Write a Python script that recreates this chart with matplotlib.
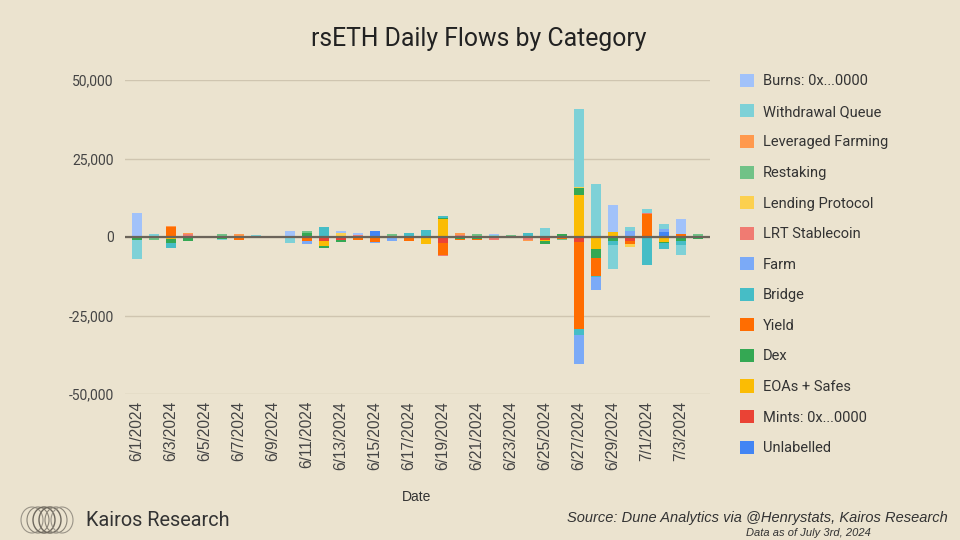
import numpy as np
import matplotlib
matplotlib.use("Agg")
import matplotlib.pyplot as plt
from matplotlib.patches import Patch, Ellipse
from matplotlib.ticker import FuncFormatter

dates = ["6/1/2024", "6/2/2024", "6/3/2024", "6/4/2024", "6/5/2024", "6/6/2024",
         "6/7/2024", "6/8/2024", "6/9/2024", "6/10/2024", "6/11/2024", "6/12/2024",
         "6/13/2024", "6/14/2024", "6/15/2024", "6/16/2024", "6/17/2024", "6/18/2024",
         "6/19/2024", "6/20/2024", "6/21/2024", "6/22/2024", "6/23/2024", "6/24/2024",
         "6/25/2024", "6/26/2024", "6/27/2024", "6/28/2024", "6/29/2024", "6/30/2024",
         "7/1/2024", "7/2/2024", "7/3/2024", "7/4/2024"]

burns = [7500, 0, 0, 0, 0, 0, 0, 0, 0, 1600, 0, 0, 600, 500, 0, 0, 0, 0, 0, 0,
         0, 400, 0, 0, 0, 0, 0, 0, 8700, 0, 0, 0, 4500, 0]
withdrawal_queue = [-6000, 1000, 0, 0, 0, -300, 0, 700, 0, -1500, 0, 0, 0, 0, 0, 0, 0, 0, 0, 0,
                    0, 500, 0, 0, 2900, 0, 24800, 16900, -7700, 1300, 1300, 1300, -3200, 0]
leveraged_farming = [0, 0, 300, 600, 0, 0, 900, 0, -300, 0, 0, 0, 0, 0, 0, 0, 0, 0, 0, 600,
                     0, 0, 0, -600, 0, 0, 0, 0, 0, 0, 0, 0, 0, 0]
restaking = [0, -800, 0, 0, 0, 600, 0, 0, 0, 0, 600, 0, 0, 0, 0, 500, 0, 0, 0, 0,
             1000, 0, 500, 0, 0, -300, 0, 0, 0, 0, 0, 0, 0, 1000]
lending_protocol = [0, 0, 0, 0, 400, 400, 0, 0, 400, 300, 0, 0, 1200, 0, 0, 0, 0, 0, 0, 0,
                    0, 0, -400, 0, 0, 0, 300, 0, 0, -900, 0, 0, 0, 0]
lrt_stablecoin = [0, 0, 0, 800, 0, 0, 0, 0, 0, 0, 0, 0, 0, 700, 0, 0, 0, 0, -300, 600,
                  0, -500, 0, -800, 0, 0, 0, 0, 0, 0, 500, 0, 0, 0]
farm = [0, 0, 0, 0, 0, 0, 0, -400, 0, 0, -1000, 0, 0, 0, -300, -1400, 0, 0, 0, 0,
        0, 0, 0, 0, 0, 0, -9200, -4000, 0, 1800, 0, 1000, 0, 0]
bridge = [0, 0, -1500, 0, 0, 0, 0, 0, 0, 0, 0, 3200, 0, 0, 0, 0, 1400, 1900, 500, 0,
          0, 0, 0, 1000, 0, 0, -1800, -500, -1400, 0, -8600, -2000, -1400, 0]
yield_ = [0, 0, 3300, 0, 0, 0, -800, 0, 0, 0, -1200, 0, 0, -700, -1600, 0, -900, 300, -4000, -300,
          -400, 0, 0, 0, 0, -500, -27900, -5500, 0, -800, 7200, 0, 1100, 0]
dex = [-600, 0, -1200, -1300, 0, -500, 0, 0, 0, 0, 1200, -600, -700, 0, 0, 300, 0, 0, 600, -500,
       -600, 0, 0, 300, -800, 900, 2300, -3000, -1200, 0, -300, -300, -1200, -600]
eoas_safes = [-400, 0, -700, 0, -300, 0, 0, 0, 0, -300, 0, -1500, 0, 0, 0, 0, 0, -2200, 5600, 0,
              0, 0, 0, 0, -600, 0, 13400, -3800, 1500, 0, 0, -1500, 0, 0]
mints = [0, 0, 0, 0, 0, 0, 0, 0, 0, 0, 0, -1300, -1000, -400, 0, 0, -400, 0, -1800, 0,
         0, -300, 0, 0, -800, 0, -1500, 0, 0, -1400, 0, 0, 0, 0]
unlabelled = [0, 0, 0, 0, 0, 0, 0, 0, 0, 0, 0, 0, 0, 0, 2000, 0, 0, 0, 0, 0,
              0, 0, 0, 0, 0, 0, 0, 0, 0, 0, 0, 1700, 0, 0]

labels = ["Burns: 0x...0000", "Withdrawal Queue", "Leveraged Farming", "Restaking",
          "Lending Protocol", "LRT Stablecoin", "Farm", "Bridge", "Yield", "Dex",
          "EOAs + Safes", "Mints: 0x...0000", "Unlabelled"]
colors = ["#a1c2fa", "#7ed1d7", "#ff994d", "#71c287", "#fcd04f", "#f07b72", "#7baaf7",
          "#46bdc6", "#ff6d01", "#34a853", "#fbbc04", "#ea4335", "#4285f4"]
series = [burns, withdrawal_queue, leveraged_farming, restaking, lending_protocol,
          lrt_stablecoin, farm, bridge, yield_, dex, eoas_safes, mints, unlabelled]

BG = "#ebe3cf"
plt.rcParams['font.family'] = ['Roboto', 'DejaVu Sans']

fig = plt.figure(figsize=(9.6, 5.4), dpi=100, facecolor=BG)
ax = fig.add_axes([125/960, 1-394/540, (710-125)/960, (394-80)/540], facecolor=BG)

x = np.arange(len(dates))
pos_base = np.zeros(len(dates))
neg_base = np.zeros(len(dates))
# stack from zero outward: last legend entry nearest zero
for vals, col in zip(series[::-1], colors[::-1]):
    v = np.array(vals, dtype=float)
    p = np.where(v > 0, v, 0)
    n = np.where(v < 0, v, 0)
    ax.bar(x, p, bottom=pos_base, width=0.63, color=col, zorder=2, linewidth=0)
    ax.bar(x, n, bottom=neg_base, width=0.63, color=col, zorder=2, linewidth=0)
    pos_base += p
    neg_base += n

ax.axhline(0, color="#6b645a", lw=1.6, zorder=3)
ax.set_ylim(-50000, 50000)
ax.set_xlim(-0.7, len(dates) - 0.3)
ax.set_yticks([-50000, -25000, 0, 25000, 50000])
ax.yaxis.set_major_formatter(FuncFormatter(lambda v, p: f"{int(v):,}"))
ax.grid(axis='y', color="#cfc5b0", lw=1.0, zorder=0)
ax.set_axisbelow(True)
for s in ax.spines.values():
    s.set_visible(False)
ax.tick_params(axis='both', length=0, colors="#444444")
ax.tick_params(axis='y', labelsize=10, pad=8)
ax.set_xticks(x[::2])
ax.set_xticklabels(dates[::2], rotation=90, fontsize=11.2, va='top',
                   family=['Liberation Sans', 'DejaVu Sans'])
ax.tick_params(axis='x', pad=5)

fig.text(417/960, 1-497/540, "Date", ha='center', va='center', fontsize=10,
         color="#333333", family=['Liberation Sans Narrow', 'Liberation Sans', 'DejaVu Sans'])
fig.text(479/960, 1-39/540, "rsETH Daily Flows by Category", ha='center', va='center',
         fontsize=17.8, color="#222222")

handles = [Patch(facecolor=c, edgecolor='none', label=l) for l, c in zip(labels, colors)]
leg = fig.legend(handles=handles, loc='upper left', bbox_to_anchor=(734/960, 1-68/540),
                 frameon=False, fontsize=10.5, handlelength=1.0, handleheight=1.0,
                 handletextpad=0.6, labelspacing=1.10, borderaxespad=0)
for t in leg.get_texts():
    t.set_color("#333333")

# logo
lax = fig.add_axes([0, 0, 1, 1], facecolor='none')
lax.set_xlim(0, 960)
lax.set_ylim(540, 0)
lax.axis('off')
for cx, lw, c in [(32, 0.8, "#9a9488"), (38, 0.8, "#8a8478"), (44, 1.0, "#6f695e"),
                  (50, 1.0, "#6f695e"), (56, 0.8, "#8a8478"), (62, 0.8, "#9a9488")]:
    lax.add_patch(Ellipse((cx, 520), 22, 26, fill=False, edgecolor=c, lw=lw))
lax.text(86, 521, "Kairos Research", ha='left', va='center', fontsize=14.3, color="#333333")
lax.text(948, 518, "Source: Dune Analytics via @Henrystats, Kairos Research", ha='right',
         va='center', fontsize=10.5, style='italic', color="#333333",
         family=['Liberation Sans Narrow', 'Liberation Sans', 'DejaVu Sans'])
lax.text(808, 533, "Data as of July 3rd, 2024", ha='center', va='center', fontsize=8,
         style='italic', color="#333333",
         family=['Liberation Sans Narrow', 'Liberation Sans', 'DejaVu Sans'])

fig.savefig("out.png", dpi=100, facecolor=BG)
